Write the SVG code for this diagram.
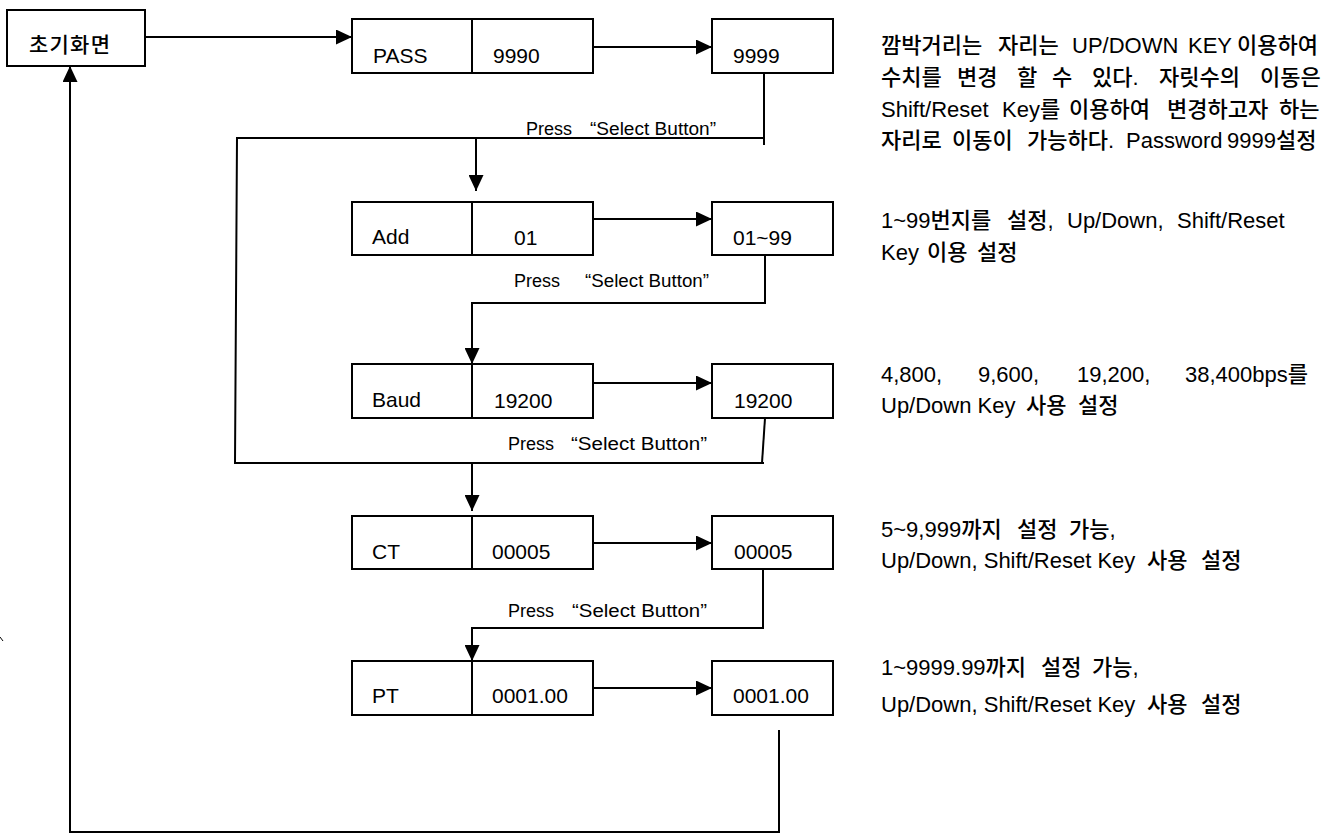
<svg xmlns="http://www.w3.org/2000/svg" width="1338" height="835" viewBox="0 0 1338 835">
<defs>
<marker id="ah" markerUnits="userSpaceOnUse" markerWidth="16" markerHeight="15" refX="16" refY="7.5" orient="auto">
<path d="M0,0 L16,7.5 L0,15 Z" fill="#000"/>
</marker>
<style>
.box{fill:#fff;stroke:#000;stroke-width:2}
.ln{fill:none;stroke:#000;stroke-width:2}
.t{font-family:"Liberation Sans","Noto Sans CJK KR",sans-serif;font-size:21px;fill:#000}
.k{font-family:"Noto Sans CJK KR","Liberation Sans",sans-serif;font-size:21px;font-weight:500;fill:#000}
.lbl{font-family:"Liberation Sans","Noto Sans CJK KR",sans-serif;font-size:18px;fill:#000}
.d{font-family:"Liberation Sans","Noto Sans CJK KR",sans-serif;font-size:22px;font-weight:500;fill:#000}
</style>
</defs>
<rect width="1338" height="835" fill="#fff"/>

<g id="connectors">
<line class="ln" x1="145" y1="37" x2="352" y2="37" marker-end="url(#ah)"/>
<line class="ln" x1="593" y1="47" x2="712" y2="47" marker-end="url(#ah)"/>
<line class="ln" x1="593" y1="219" x2="712" y2="219" marker-end="url(#ah)"/>
<line class="ln" x1="593" y1="383" x2="712" y2="383" marker-end="url(#ah)"/>
<line class="ln" x1="593" y1="543" x2="712" y2="543" marker-end="url(#ah)"/>
<line class="ln" x1="593" y1="688" x2="712" y2="688" marker-end="url(#ah)"/>
<polyline class="ln" points="764,73 764,145"/>
<polyline class="ln" points="764,138 237,138 235,463 764,463"/>
<polyline class="ln" points="765,418 762,463"/>
<line class="ln" x1="476" y1="138" x2="476" y2="191" marker-end="url(#ah)"/>
<polyline class="ln" points="765,255 765,303 472,303 472,364" marker-end="url(#ah)"/>
<line class="ln" x1="472" y1="463" x2="472" y2="511" marker-end="url(#ah)"/>
<polyline class="ln" points="763,569 763,628 472,628 472,661" marker-end="url(#ah)"/>
<polyline class="ln" points="779,730 779,832 70,832 70,66" marker-end="url(#ah)"/>
<line x1="0" y1="637" x2="3" y2="641" stroke="#000" stroke-width="1"/>
<text class="lbl" x="526" y="135">Press</text>
<text class="lbl" x="590" y="135" textLength="126" lengthAdjust="spacingAndGlyphs">“Select Button”</text>
<text class="lbl" x="514" y="287">Press</text>
<text class="lbl" x="585" y="287" textLength="124" lengthAdjust="spacingAndGlyphs">“Select Button”</text>
<text class="lbl" x="508" y="450">Press</text>
<text class="lbl" x="571" y="450" textLength="136" lengthAdjust="spacingAndGlyphs">“Select Button”</text>
<text class="lbl" x="508" y="617">Press</text>
<text class="lbl" x="572" y="617" textLength="135" lengthAdjust="spacingAndGlyphs">“Select Button”</text>
</g>

<g id="init">
<rect class="box" x="7" y="10" width="138" height="56"/>
<text class="k" x="29" y="52" textLength="81">초기화면</text>
</g>

<g id="pass">
<rect class="box" x="352" y="19" width="241" height="54"/>
<line class="ln" x1="472" y1="19" x2="472" y2="73"/>
<text class="t" x="373" y="63">PASS</text>
<text class="t" x="493" y="63">9990</text>
</g>
<g id="pass-set">
<rect class="box" x="712" y="19" width="121" height="54"/>
<text class="t" x="733" y="63">9999</text>
</g>

<g id="add">
<rect class="box" x="352" y="202" width="241" height="53"/>
<line class="ln" x1="472" y1="202" x2="472" y2="255"/>
<text class="t" x="372" y="244">Add</text>
<text class="t" x="514" y="245">01</text>
</g>
<g id="add-set">
<rect class="box" x="712" y="202" width="121" height="53"/>
<text class="t" x="733" y="245">01~99</text>
</g>

<g id="baud">
<rect class="box" x="352" y="364" width="241" height="54"/>
<line class="ln" x1="472" y1="364" x2="472" y2="418"/>
<text class="t" x="372" y="407">Baud</text>
<text class="t" x="494" y="408">19200</text>
</g>
<g id="baud-set">
<rect class="box" x="712" y="364" width="121" height="54"/>
<text class="t" x="734" y="408">19200</text>
</g>

<g id="ct">
<rect class="box" x="352" y="516" width="241" height="53"/>
<line class="ln" x1="472" y1="516" x2="472" y2="569"/>
<text class="t" x="372" y="559">CT</text>
<text class="t" x="492" y="559">00005</text>
</g>
<g id="ct-set">
<rect class="box" x="712" y="516" width="121" height="53"/>
<text class="t" x="734" y="559">00005</text>
</g>

<g id="pt">
<rect class="box" x="352" y="661" width="241" height="54"/>
<line class="ln" x1="472" y1="661" x2="472" y2="715"/>
<text class="t" x="372" y="703">PT</text>
<text class="t" x="492" y="703">0001.00</text>
</g>
<g id="pt-set">
<rect class="box" x="712" y="661" width="121" height="54"/>
<text class="t" x="733" y="703">0001.00</text>
</g>

<g id="desc-pass">
<text class="d" y="53"><tspan x="881">깜박거리는</tspan><tspan x="998">자리는</tspan><tspan x="1072">UP/DOWN</tspan><tspan x="1188">KEY</tspan><tspan x="1237">이용하여</tspan></text>
<text class="d" y="85"><tspan x="881">수치를</tspan><tspan x="957">변경</tspan><tspan x="1017">할</tspan><tspan x="1052">수</tspan><tspan x="1092">있다.</tspan><tspan x="1159">자릿수의</tspan><tspan x="1260">이동은</tspan></text>
<text class="d" y="117"><tspan x="881">Shift/Reset</tspan><tspan x="1002">Key를</tspan><tspan x="1069">이용하여</tspan><tspan x="1167">변경하고자</tspan><tspan x="1279">하는</tspan></text>
<text class="d" y="148"><tspan x="881">자리로</tspan><tspan x="952">이동이</tspan><tspan x="1027">가능하다.</tspan><tspan x="1126">Password</tspan><tspan x="1227">9999설정</tspan></text>
</g>

<g id="desc-add">
<text class="d" y="228"><tspan x="881">1~99번지를</tspan><tspan x="1007">설정,</tspan><tspan x="1067">Up/Down,</tspan><tspan x="1177">Shift/Reset</tspan></text>
<text class="d" y="260"><tspan x="881">Key</tspan><tspan x="927">이용</tspan><tspan x="977">설정</tspan></text>
</g>

<g id="desc-baud">
<text class="d" y="382"><tspan x="881">4,800,</tspan><tspan x="978">9,600,</tspan><tspan x="1077">19,200,</tspan><tspan x="1185">38,400bps를</tspan></text>
<text class="d" y="413"><tspan x="881">Up/Down Key</tspan><tspan x="1026">사용</tspan><tspan x="1078">설정</tspan></text>
</g>

<g id="desc-ct">
<text class="d" y="537"><tspan x="881">5~9,999까지</tspan><tspan x="1017">설정</tspan><tspan x="1069">가능,</tspan></text>
<text class="d" y="568"><tspan x="881">Up/Down, Shift/Reset Key</tspan><tspan x="1147">사용</tspan><tspan x="1201">설정</tspan></text>
</g>

<g id="desc-pt">
<text class="d" y="675"><tspan x="881">1~9999.99까지</tspan><tspan x="1041">설정</tspan><tspan x="1092">가능,</tspan></text>
<text class="d" y="712"><tspan x="881">Up/Down, Shift/Reset Key</tspan><tspan x="1147">사용</tspan><tspan x="1201">설정</tspan></text>
</g>
</svg>
